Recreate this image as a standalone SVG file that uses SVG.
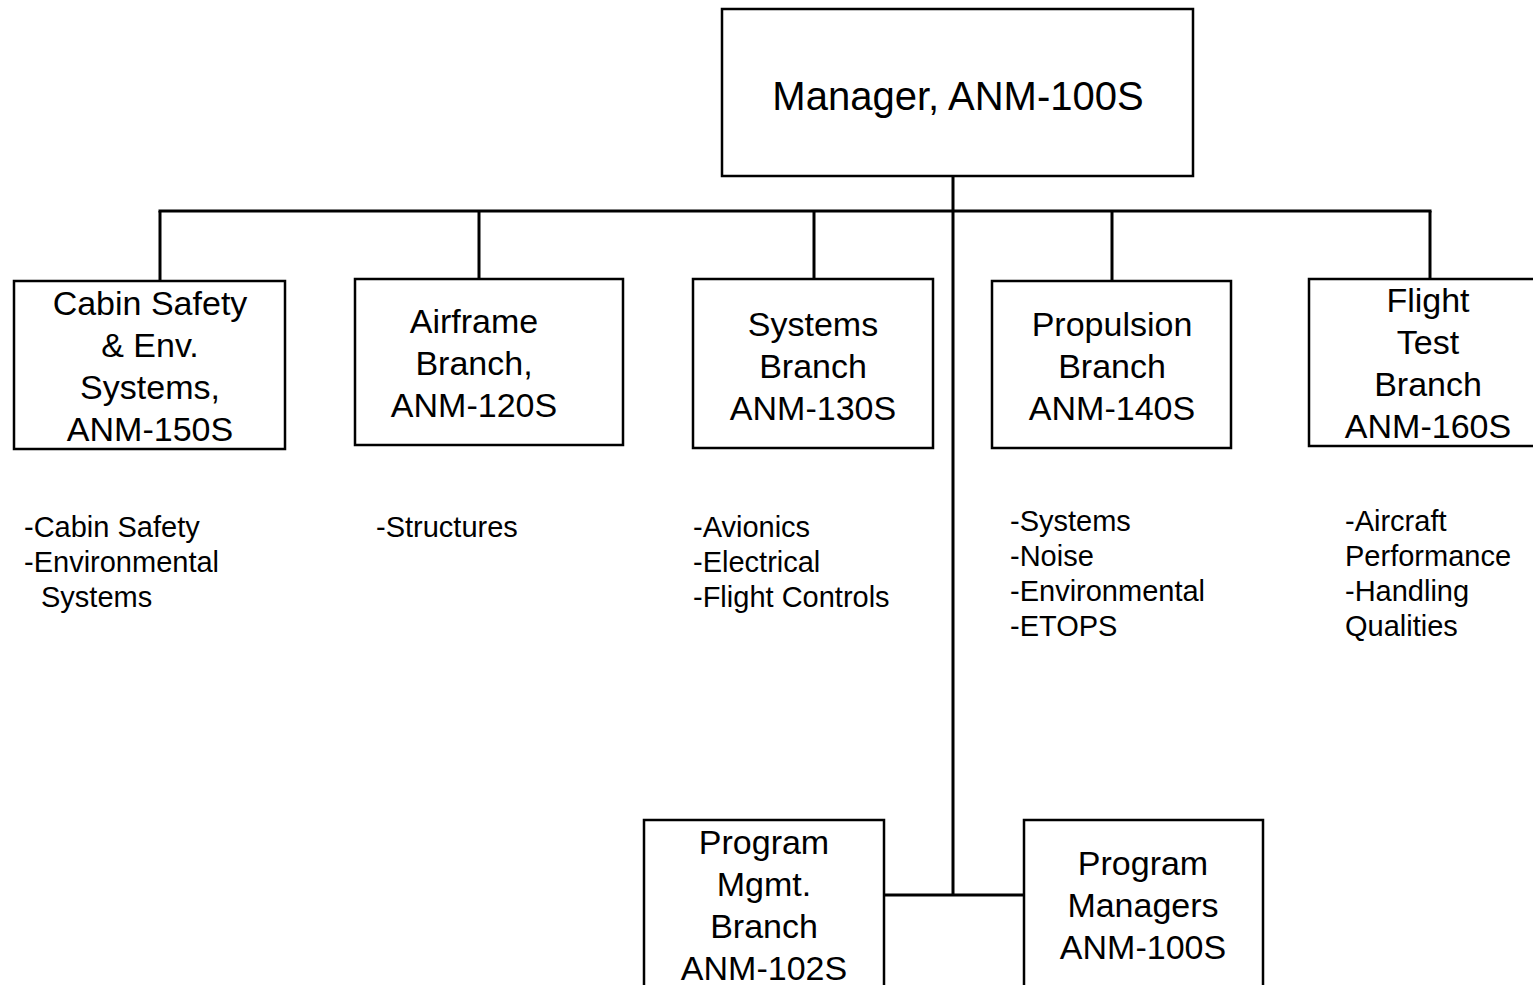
<svg xmlns="http://www.w3.org/2000/svg" width="1533" height="985" viewBox="0 0 1533 985">
<style>
.box{fill:#fff;stroke:#000;stroke-width:2.5}
.ln{stroke:#000;stroke-width:3;fill:none}
.t{font-family:"Liberation Sans",Arial,sans-serif;fill:#000;text-anchor:middle;font-size:34px}
.tm{font-family:"Liberation Sans",Arial,sans-serif;fill:#000;text-anchor:middle;font-size:40px}
.b{font-family:"Liberation Sans",Arial,sans-serif;fill:#000;font-size:29px}
</style>
<rect width="1533" height="985" fill="#fff"/>
<g id="connectors">
<line class="ln" x1="953" y1="176" x2="953" y2="895"/>
<line class="ln" x1="158.5" y1="211" x2="1431.5" y2="211"/>
<line class="ln" x1="160" y1="211" x2="160" y2="281"/>
<line class="ln" x1="479" y1="211" x2="479" y2="279"/>
<line class="ln" x1="814" y1="211" x2="814" y2="279"/>
<line class="ln" x1="1112" y1="211" x2="1112" y2="281"/>
<line class="ln" x1="1430" y1="211" x2="1430" y2="279"/>
<line class="ln" x1="884" y1="895" x2="1024" y2="895"/>
</g>
<g id="manager">
<rect class="box" x="722" y="9" width="471" height="167"/>
<text class="tm" x="958" y="110">Manager, ANM-100S</text>
</g>
<g id="cabin">
<rect class="box" x="14" y="281" width="271" height="168"/>
<text class="t" x="150" y="315">Cabin Safety</text>
<text class="t" x="150" y="357">&amp; Env.</text>
<text class="t" x="150" y="399">Systems,</text>
<text class="t" x="150" y="441">ANM-150S</text>
</g>
<g id="airframe">
<rect class="box" x="355" y="279" width="268" height="166"/>
<text class="t" x="474" y="333">Airframe</text>
<text class="t" x="474" y="375">Branch,</text>
<text class="t" x="474" y="417">ANM-120S</text>
</g>
<g id="systems">
<rect class="box" x="693" y="279" width="240" height="169"/>
<text class="t" x="813" y="336">Systems</text>
<text class="t" x="813" y="378">Branch</text>
<text class="t" x="813" y="420">ANM-130S</text>
</g>
<g id="propulsion">
<rect class="box" x="992" y="281" width="239" height="167"/>
<text class="t" x="1112" y="336">Propulsion</text>
<text class="t" x="1112" y="378">Branch</text>
<text class="t" x="1112" y="420">ANM-140S</text>
</g>
<g id="flighttest">
<rect class="box" x="1309" y="279" width="240" height="167"/>
<text class="t" x="1428" y="312">Flight</text>
<text class="t" x="1428" y="354">Test</text>
<text class="t" x="1428" y="396">Branch</text>
<text class="t" x="1428" y="438">ANM-160S</text>
</g>
<g id="progmgmt">
<rect class="box" x="644" y="820" width="240" height="175"/>
<text class="t" x="764" y="854">Program</text>
<text class="t" x="764" y="896">Mgmt.</text>
<text class="t" x="764" y="938">Branch</text>
<text class="t" x="764" y="980">ANM-102S</text>
</g>
<g id="progmanagers">
<rect class="box" x="1024" y="820" width="239" height="175"/>
<text class="t" x="1143" y="875">Program</text>
<text class="t" x="1143" y="917">Managers</text>
<text class="t" x="1143" y="959">ANM-100S</text>
</g>
<g id="notes">
<text class="b" x="24" y="537">-Cabin Safety</text>
<text class="b" x="24" y="572">-Environmental</text>
<text class="b" x="41" y="607">Systems</text>
<text class="b" x="376" y="537">-Structures</text>
<text class="b" x="693" y="537">-Avionics</text>
<text class="b" x="693" y="572">-Electrical</text>
<text class="b" x="693" y="607">-Flight Controls</text>
<text class="b" x="1010" y="531">-Systems</text>
<text class="b" x="1010" y="566">-Noise</text>
<text class="b" x="1010" y="601">-Environmental</text>
<text class="b" x="1010" y="636">-ETOPS</text>
<text class="b" x="1345" y="531">-Aircraft</text>
<text class="b" x="1345" y="566">Performance</text>
<text class="b" x="1345" y="601">-Handling</text>
<text class="b" x="1345" y="636">Qualities</text>
</g>
</svg>
